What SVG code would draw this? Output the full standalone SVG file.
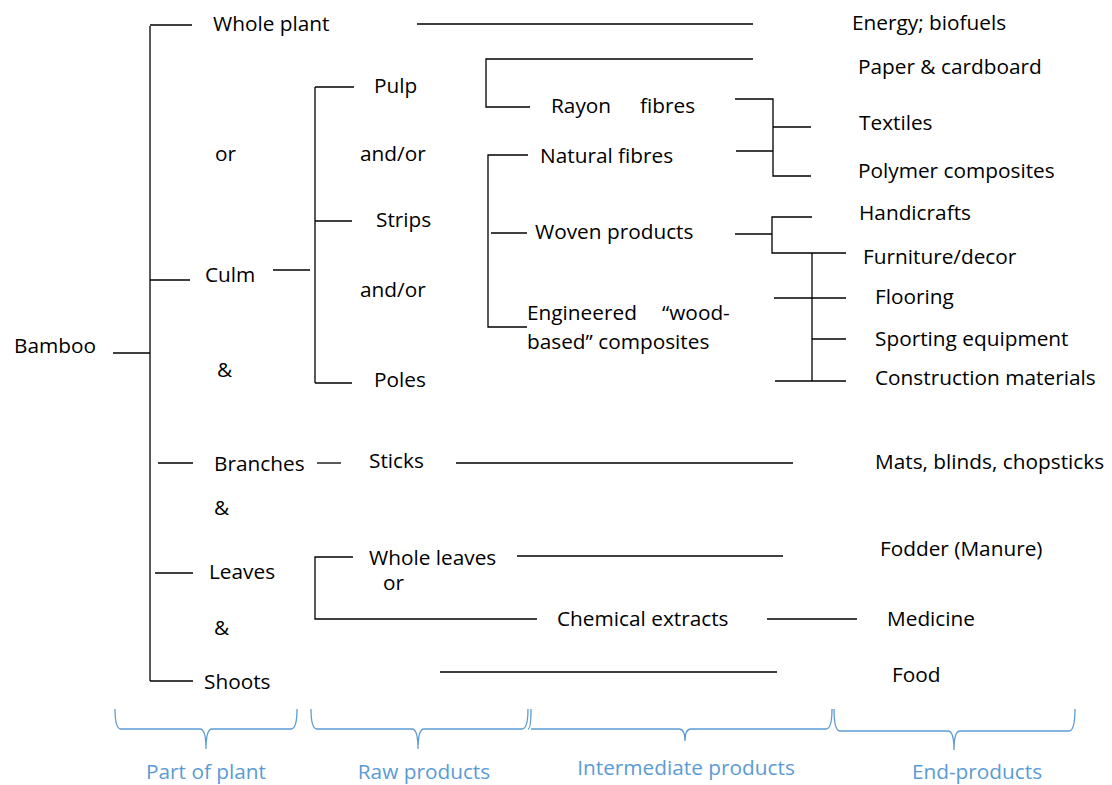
<svg xmlns="http://www.w3.org/2000/svg" width="1112" height="785" viewBox="0 0 1112 785">
<style>
text{font-family:"Open Sans","Liberation Sans",sans-serif;font-size:20.8px;fill:#000}
.lbl{fill:#5B9BD5;text-anchor:middle}
.c line,.c polyline{stroke:#000;stroke-width:1.3;fill:none}
.b path{stroke:#5B9BD5;stroke-width:1.3;fill:none}
</style>
<rect width="1112" height="785" fill="#fff"/>
<g class="c" id="connectors">
<line x1="150" y1="26" x2="150" y2="681"/>
<line x1="150" y1="25" x2="192" y2="25"/>
<line x1="150" y1="280" x2="190" y2="280"/>
<line x1="113" y1="353" x2="150" y2="353"/>
<line x1="158" y1="463" x2="193" y2="463"/>
<line x1="155" y1="573" x2="193" y2="573"/>
<line x1="150" y1="681" x2="193" y2="681"/>
<line x1="417" y1="24" x2="753" y2="24"/>
<line x1="273" y1="270" x2="310" y2="270"/>
<line x1="315" y1="87" x2="315" y2="383"/>
<line x1="315" y1="87" x2="354" y2="87"/>
<line x1="315" y1="221" x2="352" y2="221"/>
<line x1="315" y1="383" x2="352" y2="383"/>
<polyline points="753,59 486,59 486,107 530,107"/>
<polyline points="735,99 773,99 773,176 811,176"/>
<line x1="773" y1="127" x2="811" y2="127"/>
<line x1="736" y1="151" x2="773" y2="151"/>
<polyline points="528,155 488,155 488,327 527,327"/>
<line x1="491" y1="233" x2="527" y2="233"/>
<line x1="735" y1="234" x2="772" y2="234"/>
<polyline points="812,217 772,217 772,253 846,253"/>
<line x1="812" y1="253" x2="812" y2="381"/>
<line x1="774" y1="298" x2="846" y2="298"/>
<line x1="812" y1="339" x2="846" y2="339"/>
<line x1="775" y1="381" x2="846" y2="381"/>
<line x1="317" y1="463" x2="341" y2="463"/>
<line x1="456" y1="463" x2="793" y2="463"/>
<polyline points="353,557 315,557 315,619 537,619"/>
<line x1="517" y1="556" x2="783" y2="556"/>
<line x1="767" y1="619" x2="857" y2="619"/>
<line x1="440" y1="672" x2="777" y2="672"/>
</g>
<g id="n-bamboo"><text x="14" y="353">Bamboo</text></g>
<g id="n-whole-plant"><text x="213" y="31">Whole plant</text></g>
<g id="n-or1"><text x="215" y="161">or</text></g>
<g id="n-culm"><text x="205" y="282">Culm</text></g>
<g id="n-amp1"><text x="217" y="377">&amp;</text></g>
<g id="n-branches"><text x="214" y="471">Branches</text></g>
<g id="n-amp2"><text x="214" y="515">&amp;</text></g>
<g id="n-leaves"><text x="209" y="579">Leaves</text></g>
<g id="n-amp3"><text x="214" y="635">&amp;</text></g>
<g id="n-shoots"><text x="204" y="689">Shoots</text></g>
<g id="n-pulp"><text x="374" y="93">Pulp</text></g>
<g id="n-andor1"><text x="360" y="161">and/or</text></g>
<g id="n-strips"><text x="376" y="227">Strips</text></g>
<g id="n-andor2"><text x="360" y="297">and/or</text></g>
<g id="n-poles"><text x="374" y="387">Poles</text></g>
<g id="n-sticks"><text x="369" y="468">Sticks</text></g>
<g id="n-whole-leaves"><text x="369" y="565">Whole leaves</text><text x="383" y="590">or</text></g>
<g id="n-rayon"><text x="551" y="113">Rayon</text><text x="640" y="113">fibres</text></g>
<g id="n-natural"><text x="540" y="163">Natural fibres</text></g>
<g id="n-woven"><text x="535" y="239">Woven products</text></g>
<g id="n-engineered"><text x="527" y="320">Engineered</text><text x="662" y="320">“wood-</text><text x="527" y="349">based” composites</text></g>
<g id="n-chemical"><text x="557" y="626">Chemical extracts</text></g>
<g id="n-energy"><text x="852" y="30">Energy; biofuels</text></g>
<g id="n-paper"><text x="858" y="74">Paper &amp; cardboard</text></g>
<g id="n-textiles"><text x="859" y="130">Textiles</text></g>
<g id="n-polymer"><text x="858" y="178">Polymer composites</text></g>
<g id="n-handicrafts"><text x="859" y="220">Handicrafts</text></g>
<g id="n-furniture"><text x="863" y="264">Furniture/decor</text></g>
<g id="n-flooring"><text x="875" y="304">Flooring</text></g>
<g id="n-sporting"><text x="875" y="346">Sporting equipment</text></g>
<g id="n-construction"><text x="875" y="385">Construction materials</text></g>
<g id="n-mats"><text x="875" y="469">Mats, blinds, chopsticks</text></g>
<g id="n-fodder"><text x="880" y="556">Fodder (Manure)</text></g>
<g id="n-medicine"><text x="887" y="626">Medicine</text></g>
<g id="n-food"><text x="892" y="682">Food</text></g>
<g class="b" id="braces">
<path d="M115 709 Q115 729 121 729 L200 729 Q206 729 206 749 Q206 729 212 729 L291 729 Q297 729 297 709"/>
<path d="M311 709 Q311 729 317 729 L412 729 Q418 729 418 749 Q418 729 424 729 L522 729 Q528 729 528 709"/>
<path d="M528 729 Q531 729 531 709 M531 729 L679 729 Q685 729 685 741 Q685 729 691 729 L826 729 Q832 729 832 709"/>
<path d="M834 709 Q834 731 840 731 L948 731 Q954 731 954 750 Q954 731 960 731 L1069 731 Q1075 731 1075 709"/>
</g>
<g id="labels">
<text class="lbl" x="206" y="779">Part of plant</text>
<text class="lbl" x="424" y="779">Raw products</text>
<text class="lbl" x="686" y="775">Intermediate products</text>
<text class="lbl" x="977" y="779">End-products</text>
</g>
</svg>
